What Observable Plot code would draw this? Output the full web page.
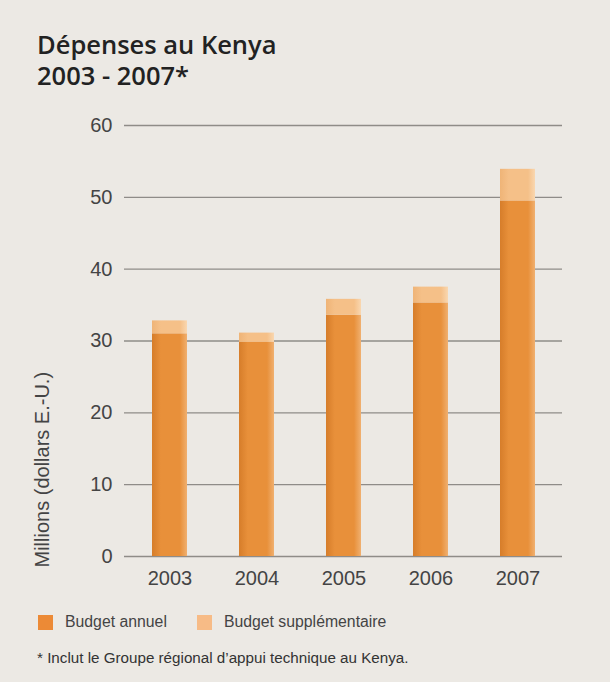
<!DOCTYPE html>
<html>
<head>
<meta charset="utf-8">
<script src="https://cdn.jsdelivr.net/npm/d3@7"></script>
<script src="https://cdn.jsdelivr.net/npm/@observablehq/plot@0.6"></script>
<style>
  html, body { margin: 0; padding: 0; }
  body { width: 610px; height: 682px; background: #ece9e4; font-family: "Liberation Sans", Arial, sans-serif; position: relative; overflow: hidden; }
  #title { position: absolute; left: 37px; top: 29px; font-family: "Open Sans", "DejaVu Sans", sans-serif; font-weight: 600; font-size: 25.5px; line-height: 31px; color: #222; }
  #chart { position: absolute; left: 0; top: 100px; }
  #legend { position: absolute; left: 38px; top: 613px; font-size: 15.8px; color: #444; display: flex; align-items: center; }
  #legend .sw { width: 15px; height: 15px; display: inline-block; margin-right: 12px; }
  #legend .item { display: flex; align-items: center; margin-right: 30px; }
  #note { position: absolute; left: 37px; top: 649px; font-size: 15.2px; color: #333; }
</style>
</head>
<body>
<div id="title">Dépenses au Kenya<br>2003 - 2007*</div>
<div id="chart"></div>
<div id="legend"></div>
<div id="note">* Inclut le Groupe régional d’appui technique au Kenya.</div>
<script>
const years = ["2003", "2004", "2005", "2006", "2007"];
const annuel = [31.0, 29.8, 33.6, 35.3, 49.5];
const supplementaire = [1.8, 1.3, 2.2, 2.2, 4.4];
const seriesNames = ["Budget annuel", "Budget supplémentaire"];
const seriesColors = ["#e8903a", "#f5c088"];
const yTicks = [0, 10, 20, 30, 40, 50, 60];
const yLabel = "Millions (dollars E.-U.)";

const data = [];
years.forEach((y, i) => {
  data.push({year: y, series: seriesNames[0], value: annuel[i]});
  data.push({year: y, series: seriesNames[1], value: supplementaire[i]});
});

const chart = Plot.plot({
  width: 610,
  height: 501,
  marginLeft: 124,
  marginRight: 48,
  marginTop: 25,
  marginBottom: 45,
  style: {background: "transparent", fontFamily: "Liberation Sans, Arial, sans-serif", fontSize: "20px", color: "#444"},
  x: {domain: years, paddingInner: 0.6, paddingOuter: 0.3, label: null},
  y: {domain: [0, 60], ticks: yTicks, label: null},
  color: {domain: seriesNames, range: ["url(#gAnnuel)", "url(#gSupp)"]},
  marks: [
    Plot.ruleY(yTicks, {stroke: "#8f8c88", strokeWidth: 1.3}),
    Plot.axisY(yTicks, {tickSize: 0, tickPadding: 12, fontSize: 20, fill: "#444", label: null}),
    Plot.axisX({tickSize: 0, tickPadding: 14, fontSize: 20, fill: "#444", label: null}),
    Plot.text([yLabel], {frameAnchor: "bottom-left", rotate: -90, textAnchor: "start", dx: -76, dy: 11, fontSize: 20, fill: "#444"}),
    Plot.barY(data, Plot.stackY({x: "year", y: "value", fill: "series", order: seriesNames})),
  ]
});

// gradients for the bar shading
const svg = d3.select(chart);
const defs = svg.insert("defs", ":first-child");
function grad(id, mid, dark, light) {
  const g = defs.append("linearGradient").attr("id", id).attr("x1", "0").attr("x2", "1").attr("y1", "0").attr("y2", "0");
  g.append("stop").attr("offset", "0%").attr("stop-color", dark);
  g.append("stop").attr("offset", "25%").attr("stop-color", mid);
  g.append("stop").attr("offset", "80%").attr("stop-color", mid);
  g.append("stop").attr("offset", "100%").attr("stop-color", light);
}
grad("gAnnuel", seriesColors[0], "#d67d2a", "#f0b070");
grad("gSupp", seriesColors[1], "#efb477", "#f9d7b0");

document.getElementById("chart").appendChild(chart);

const legend = document.getElementById("legend");
seriesNames.forEach((n, i) => {
  const it = document.createElement("span");
  it.className = "item";
  const sw = document.createElement("span");
  sw.className = "sw";
  sw.style.background = i === 0 ? "#ec8a36" : "#f7bb86";
  it.appendChild(sw);
  it.appendChild(document.createTextNode(n));
  legend.appendChild(it);
});
</script>
</body>
</html>
